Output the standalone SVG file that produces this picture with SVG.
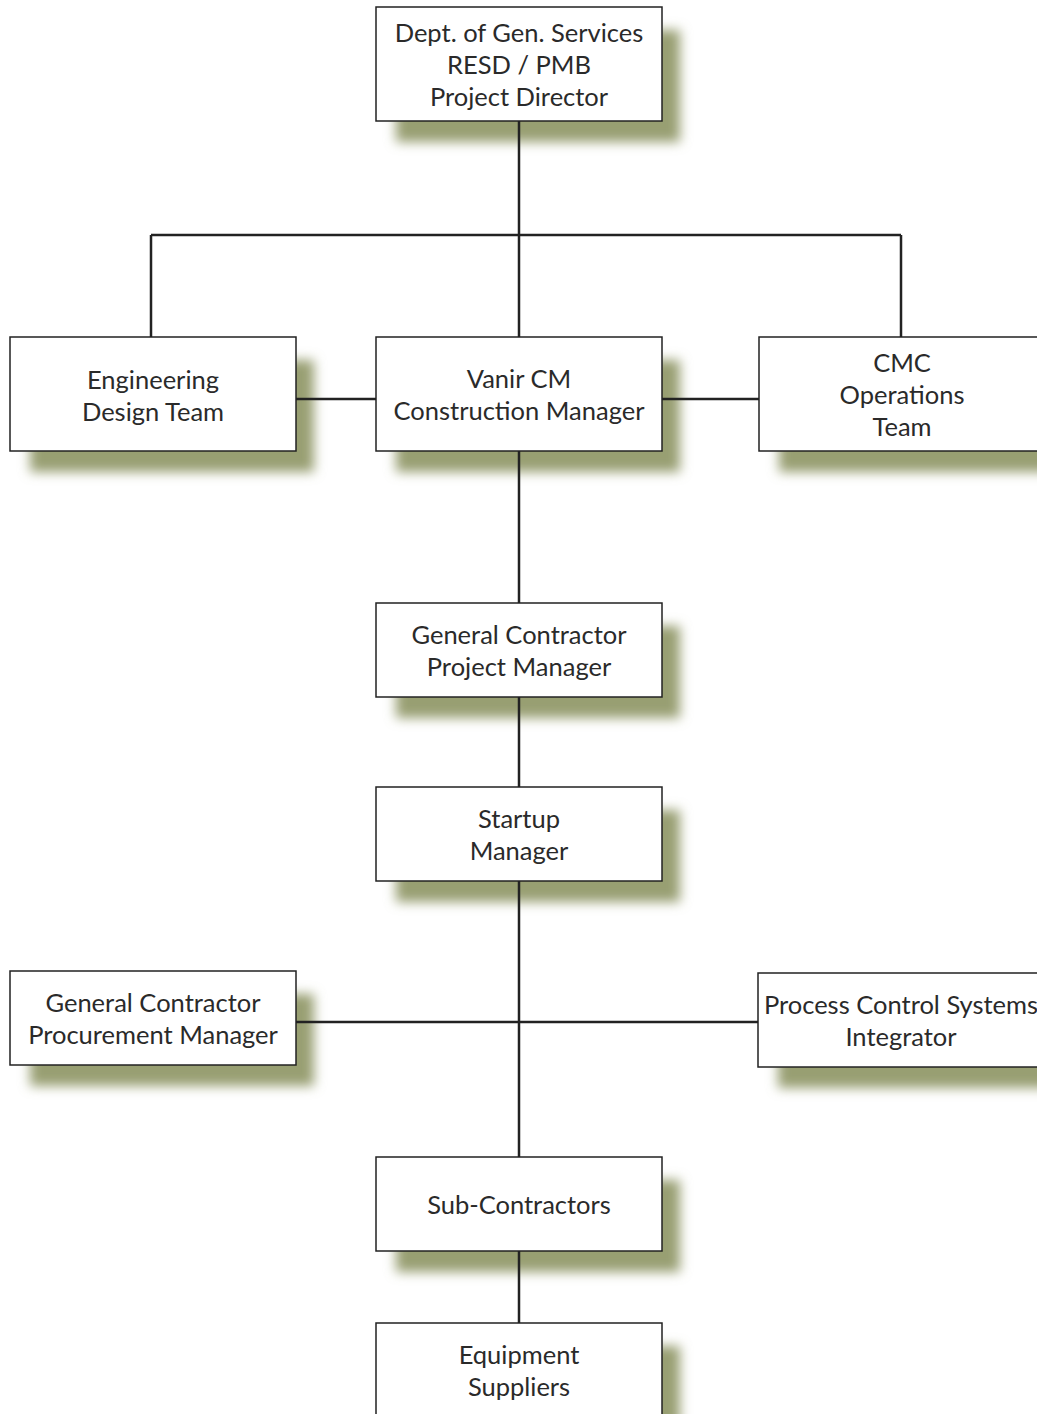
<svg xmlns="http://www.w3.org/2000/svg" width="1037" height="1414" viewBox="0 0 1037 1414">
<style>
.box{fill:#fff;stroke:#222;stroke-width:1.5}
.sh{fill:#989f72;filter:url(#blur)}
.t{font-family:Lato,"Open Sans",sans-serif;font-size:25.5px;font-weight:400;fill:#2a2a2a;text-anchor:middle}
.c{stroke:#222;stroke-width:2.5;fill:none}
</style>
<defs>
<filter id="blur" x="-20%" y="-30%" width="140%" height="160%"><feGaussianBlur stdDeviation="6"/></filter>
</defs>
<rect width="1037" height="1414" fill="#fff"/>
<g id="shadows">
<rect class="sh" x="396" y="30" width="284" height="112"/>
<rect class="sh" x="30" y="360" width="284" height="112"/>
<rect class="sh" x="396" y="360" width="284" height="112"/>
<rect class="sh" x="779" y="360" width="284" height="112"/>
<rect class="sh" x="396" y="626" width="284" height="92"/>
<rect class="sh" x="396" y="810" width="284" height="92"/>
<rect class="sh" x="30" y="994" width="284" height="92"/>
<rect class="sh" x="778" y="996" width="284" height="92"/>
<rect class="sh" x="396" y="1180" width="284" height="92"/>
<rect class="sh" x="396" y="1346" width="284" height="92"/>
</g>
<g id="connectors">
<path class="c" d="M519 121V337M151 235H901M151 235V337M901 235V337M296 399H376M662 399H759M519 451V603M519 697V787M519 881V1157M296 1022H758M519 1251V1323"/>
</g>
<g id="n1"><rect class="box" x="376" y="7" width="286" height="114"/><text class="t" x="519" y="42">Dept. of Gen. Services</text><text class="t" x="519" y="74">RESD / PMB</text><text class="t" x="519" y="106">Project Director</text></g>
<g id="n2"><rect class="box" x="10" y="337" width="286" height="114"/><text class="t" x="153" y="389">Engineering</text><text class="t" x="153" y="421">Design Team</text></g>
<g id="n3"><rect class="box" x="376" y="337" width="286" height="114"/><text class="t" x="519" y="388">Vanir CM</text><text class="t" x="519" y="420">Construction Manager</text></g>
<g id="n4"><rect class="box" x="759" y="337" width="286" height="114"/><text class="t" x="902" y="372">CMC</text><text class="t" x="902" y="404">Operations</text><text class="t" x="902" y="436">Team</text></g>
<g id="n5"><rect class="box" x="376" y="603" width="286" height="94"/><text class="t" x="519" y="644">General Contractor</text><text class="t" x="519" y="676">Project Manager</text></g>
<g id="n6"><rect class="box" x="376" y="787" width="286" height="94"/><text class="t" x="519" y="828">Startup</text><text class="t" x="519" y="860">Manager</text></g>
<g id="n7"><rect class="box" x="10" y="971" width="286" height="94"/><text class="t" x="153" y="1012">General Contractor</text><text class="t" x="153" y="1044">Procurement Manager</text></g>
<g id="n8"><rect class="box" x="758" y="973" width="286" height="94"/><text class="t" x="901" y="1014">Process Control Systems</text><text class="t" x="901" y="1046">Integrator</text></g>
<g id="n9"><rect class="box" x="376" y="1157" width="286" height="94"/><text class="t" x="519" y="1214">Sub-Contractors</text></g>
<g id="n10"><rect class="box" x="376" y="1323" width="286" height="120"/><text class="t" x="519" y="1364">Equipment</text><text class="t" x="519" y="1396">Suppliers</text></g>
</svg>
